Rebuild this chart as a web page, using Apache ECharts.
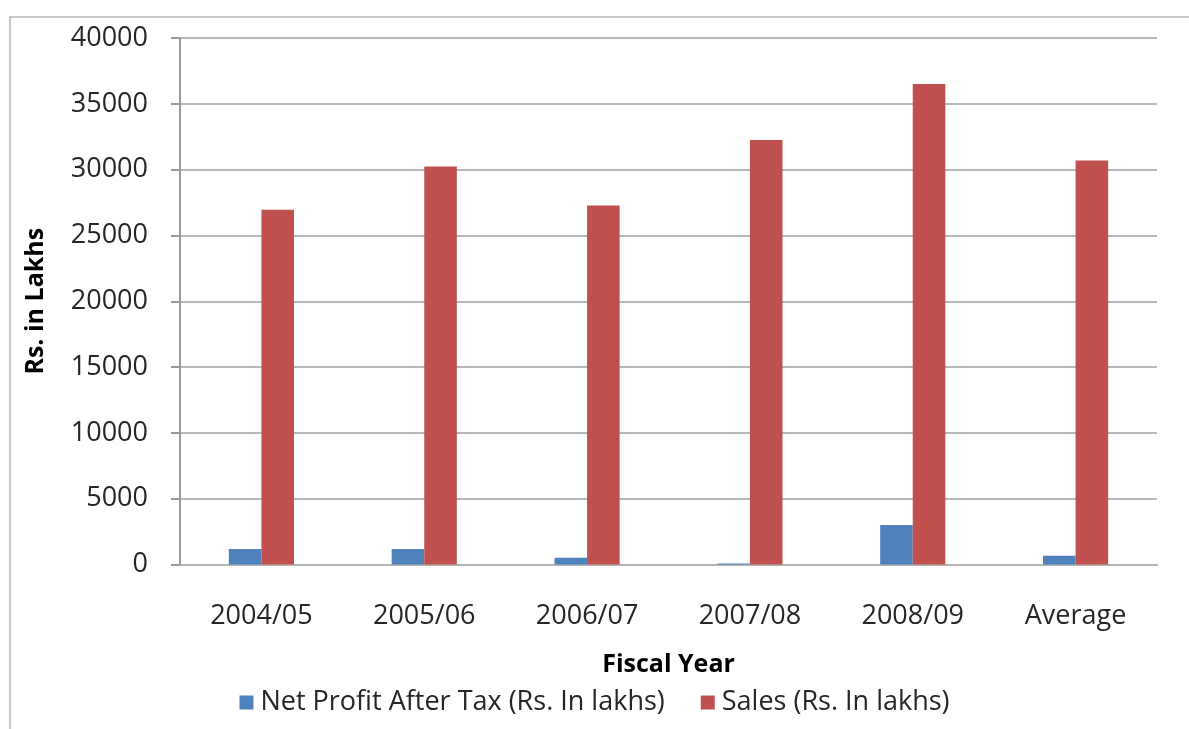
<!DOCTYPE html>
<html>
<head>
<meta charset="utf-8">
<script src="https://cdn.jsdelivr.net/npm/echarts@6/dist/echarts.min.js"></script>
<style>
  html, body { margin: 0; padding: 0; background: #ffffff; }
  #frame {
    position: absolute; left: 9px; top: 16px; width: 1180px; height: 713px;
    border-left: 2px solid #c8c8c8; border-top: 2px solid #c8c8c8;
    box-sizing: border-box;
  }
  #chart { position: absolute; left: 0; top: 0; width: 1189px; height: 729px; }
</style>
</head>
<body>
<div id="frame"></div>
<div id="chart"></div>
<script>
// Fiscal years plus the five-year average
const categories = ['2004/05', '2005/06', '2006/07', '2007/08', '2008/09', 'Average'];
// Net profit after tax, Rs. in lakhs
const netProfit = [1180, 1180, 520, 80, 3000, 670];
// Sales, Rs. in lakhs
const sales = [26950, 30230, 27270, 32260, 36510, 30690];
const seriesNames = ['Net Profit After Tax (Rs. In lakhs)', 'Sales (Rs. In lakhs)'];

const FONT = '"Open Sans", "DejaVu Sans", sans-serif';
const chart = echarts.init(document.getElementById('chart'), null, { renderer: 'canvas' });

chart.setOption({
  animation: false,
  backgroundColor: 'transparent',
  textStyle: { fontFamily: FONT },
  grid: { left: 180, right: 32, top: 38, bottom: 164.5, containLabel: false },
  legend: {
    bottom: 8,
    left: 'center',
    itemWidth: 14,
    itemHeight: 14,
    itemGap: 36,
    icon: 'rect',
    textStyle: { fontFamily: FONT, fontSize: 27, color: '#262626', padding: [0, 0, 0, 2] },
    data: seriesNames
  },
  xAxis: {
    type: 'category',
    data: categories,
    name: 'Fiscal Year',
    nameLocation: 'middle',
    nameGap: 88,
    nameTextStyle: { fontFamily: FONT, fontSize: 25, fontWeight: 'bold', color: '#000' },
    axisLine: { lineStyle: { color: '#b4b4b4', width: 2 } },
    axisTick: { show: false },
    axisLabel: { fontFamily: FONT, fontSize: 27, color: '#262626', margin: 38 },
    splitLine: { show: false }
  },
  yAxis: {
    type: 'value',
    min: 0,
    max: 40000,
    interval: 5000,
    name: 'Rs. in Lakhs',
    nameLocation: 'middle',
    nameGap: 132,
    nameRotate: 90,
    nameTextStyle: { fontFamily: FONT, fontSize: 25, fontWeight: 'bold', color: '#000' },
    axisLine: { show: true, lineStyle: { color: '#9a9a9a', width: 2 } },
    axisTick: { show: true, length: 9, lineStyle: { color: '#9a9a9a', width: 2 } },
    axisLabel: {
      fontFamily: FONT, fontSize: 27, color: '#262626', margin: 32,
      formatter: v => String(v)
    },
    splitLine: { show: true, lineStyle: { color: '#b8b8b8', width: 2 } }
  },
  series: [
    {
      name: seriesNames[0],
      type: 'bar',
      data: netProfit,
      barGap: '0%',
      barCategoryGap: '60%',
      itemStyle: { color: '#4f81bd' }
    },
    {
      name: seriesNames[1],
      type: 'bar',
      data: sales,
      barGap: '0%',
      barCategoryGap: '60%',
      itemStyle: { color: '#c0504d' }
    }
  ]
});
</script>
</body>
</html>
